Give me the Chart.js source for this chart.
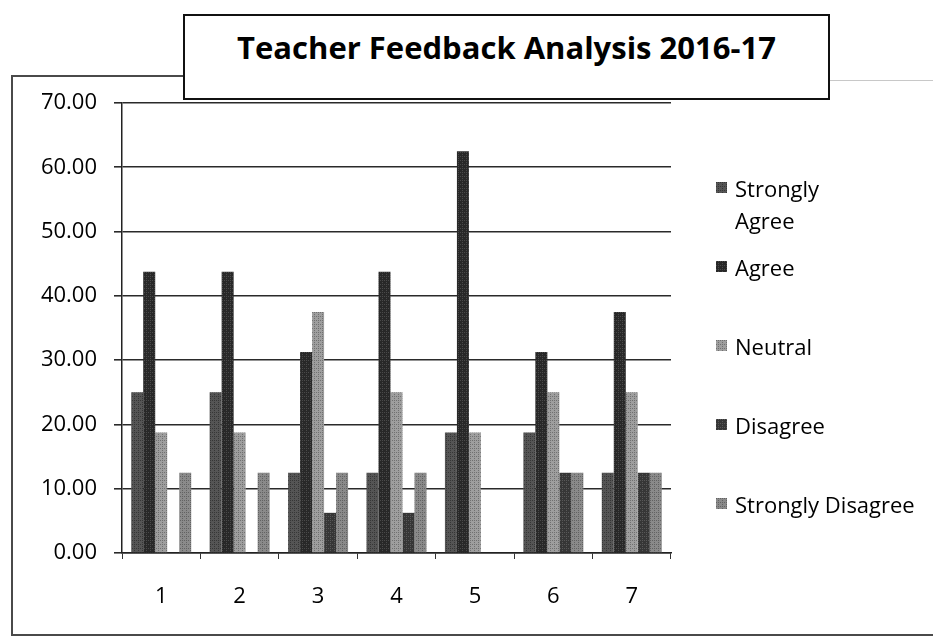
<!DOCTYPE html>
<html>
<head>
<meta charset="utf-8">
<script src="https://cdn.jsdelivr.net/npm/chart.js@4/dist/chart.umd.min.js"></script>
<style>
  html, body { margin: 0; padding: 0; background: #fff; }
  #wrap { position: relative; width: 933px; height: 638px; overflow: hidden; font-family: "Open Sans", sans-serif; }
  #frame { position: absolute; left: 11px; top: 75px; width: 940px; height: 559px; border-left: 2px solid #4a4a4a; border-bottom: 2px solid #4a4a4a; }
  #frameTopLeft { position: absolute; left: 11px; top: 75px; width: 180px; height: 2px; background: #4a4a4a; }
  #frameTopRight { position: absolute; left: 828px; top: 80px; width: 110px; height: 1px; background: #c8c8c8; }
  #feedbackChart { position: absolute; left: 0; top: 0; }
  #titleBox { position: absolute; left: 183px; top: 14px; width: 643px; border: 2px solid #111; background: #fff;
    font-weight: bold; font-size: 31px; color: #000; text-align: center; line-height: 40px; padding-top: 11px; height: 71px; }
  #legend { position: absolute; left: 0; top: 0; }
  .item { position: absolute; left: 716px; font-size: 22px; line-height: 32px; color: #000; white-space: nowrap; }
  .item .box { position: absolute; left: 0; top: 10px; width: 11px; height: 11px; }
  .item .txt { position: absolute; left: 19px; top: 0; }
</style>
</head>
<body>
<div id="wrap">
  <div id="frame"></div>
  <div id="frameTopLeft"></div>
  <div id="frameTopRight"></div>
  <canvas id="feedbackChart" width="933" height="638"></canvas>
  <div id="titleBox">Teacher Feedback Analysis 2016-17</div>
  <div id="legend"></div>
</div>
<script>
// feedback chart

const categories = ['1', '2', '3', '4', '5', '6', '7'];
const seriesLabels = ['Strongly Agree', 'Agree', 'Neutral', 'Disagree', 'Strongly Disagree'];
const stronglyAgree = [25, 25, 12.5, 12.5, 18.75, 18.75, 12.5];
const agree = [43.75, 43.75, 31.25, 43.75, 62.5, 31.25, 37.5];
const neutral = [18.75, 18.75, 37.5, 25, 18.75, 25, 25];
const disagree = [0, 0, 6.25, 6.25, 0, 12.5, 12.5];
const stronglyDisagree = [12.5, 12.5, 12.5, 12.5, 0, 12.5, 12.5];
const yTicks = [0, 10, 20, 30, 40, 50, 60, 70];

// gray halftone look, like the printed original
const shades = [
  ['#555555', '#363636'],
  ['#282828', '#4a4a4a'],
  ['#9e9e9e', '#707070'],
  ['#363636', '#585858'],
  ['#8a8a8a', '#626262'],
];

function makePattern(base, dot) {
  const c = document.createElement('canvas');
  c.width = 4;
  c.height = 4;
  const g = c.getContext('2d');
  g.fillStyle = base;
  g.fillRect(0, 0, 4, 4);
  g.fillStyle = dot;
  g.fillRect(0, 0, 1, 1);
  g.fillRect(2, 2, 1, 1);
  g.fillRect(2, 0, 1, 1);
  return g.createPattern(c, 'repeat');
}

const seriesData = [stronglyAgree, agree, neutral, disagree, stronglyDisagree];
const fills = shades.map(([b, d]) => makePattern(b, d));

const ctx = document.getElementById('feedbackChart').getContext('2d');
const feedbackChart = new Chart(ctx, {
  type: 'bar',
  data: {
    labels: categories,
    datasets: seriesLabels.map((label, i) => ({
      label,
      data: seriesData[i],
      backgroundColor: fills[i],
      borderWidth: 0,
      categoryPercentage: 0.765,
      barPercentage: 1,
    })),
  },
  options: {
    responsive: false,
    animation: false,
    layout: { padding: { left: 0, right: 262, top: 103, bottom: 0 } },
    plugins: {
      legend: { display: false },
      title: { display: false },
      tooltip: { enabled: false },
    },
    scales: {
      x: {
        grid: { display: true, drawOnChartArea: false, drawTicks: true, tickLength: 6, color: '#333', lineWidth: 1 },
        border: { display: true, color: '#222', width: 1.5 },
        ticks: { color: '#000', font: { family: 'Open Sans', size: 22 }, padding: 25 },
        afterFit: (s) => { s.height = 85; },
      },
      y: {
        min: 0,
        max: 70,
        afterBuildTicks: (s) => { s.ticks = yTicks.map((v) => ({ value: v })); },
        grid: { color: '#2a2a2a', lineWidth: 1.6, tickLength: 8 },
        border: { display: true, color: '#222', width: 1.5 },
        ticks: {
          color: '#000',
          font: { family: 'Open Sans', size: 22 },
          padding: 17,
          callback: (v) => Number(v).toFixed(2),
        },
        afterFit: (s) => { s.width = 122; },
      },
    },
  },
});

// legend on the right, first line of each entry 79px apart
const legend = document.getElementById('legend');
seriesLabels.forEach((label, i) => {
  const item = document.createElement('div');
  item.className = 'item';
  item.style.top = (172 + i * 79) + 'px';
  const box = document.createElement('canvas');
  box.className = 'box';
  box.width = 11;
  box.height = 11;
  const bg = box.getContext('2d');
  bg.fillStyle = makePattern(shades[i][0], shades[i][1]);
  bg.fillRect(0, 0, 11, 11);
  const txt = document.createElement('div');
  txt.className = 'txt';
  txt.innerHTML = label === 'Strongly Agree' ? 'Strongly<br>Agree' : label;
  item.appendChild(box);
  item.appendChild(txt);
  legend.appendChild(item);
});
</script>
</body>
</html>
